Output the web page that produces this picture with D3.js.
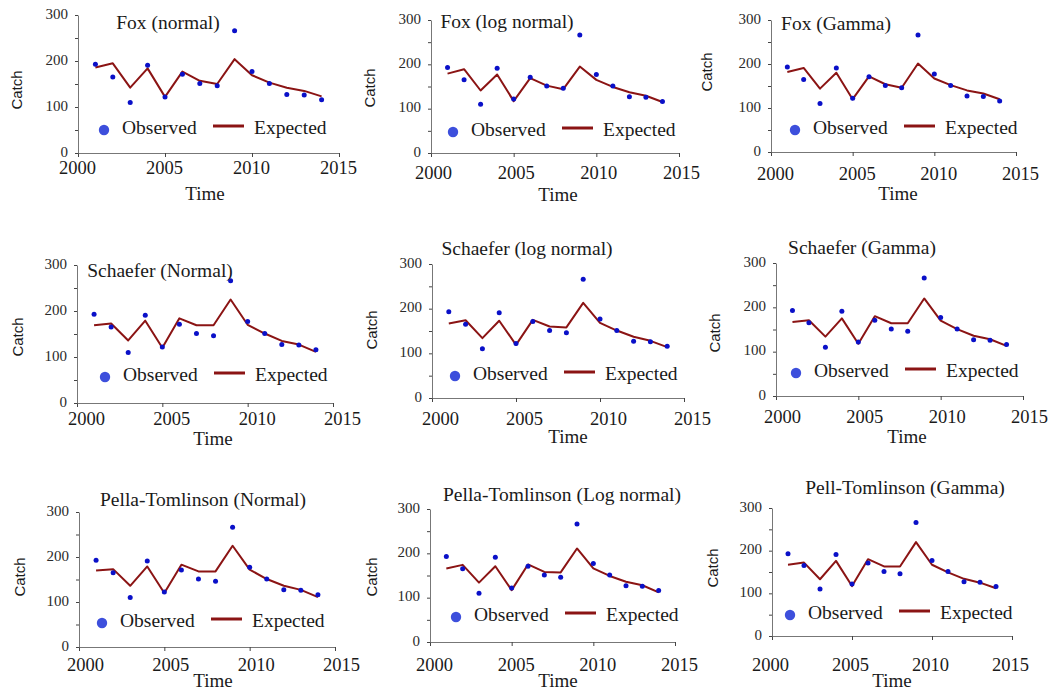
<!DOCTYPE html>
<html><head><meta charset="utf-8">
<script src="https://cdn.jsdelivr.net/npm/d3@7"></script>
<style>body{margin:0;background:#fff} svg{display:block}</style>
</head><body><svg id="c" width="1049" height="693"></svg>
<script>
// ---------- data ----------
const years = [2001,2002,2003,2004,2005,2006,2007,2008,2009,2010,2011,2012,2013,2014];
const observed = [193,165,110,191,122,171,151,146,266,177,151,127,126,116];
const foxNormal = [186,195,142,184,122,177,157,150,204,169,153,142,135,123];
const foxLogNormal = [179,189,141,177,117,169,152,144,195,165,149,137,129,115];
const foxGamma = [182,191,144,180,120,172,154,146,201,167,152,140,133,120];
const schaeferNormal = [169,173,136,179,120,184,169,169,225,170,151,135,127,111];
const schaeferLogNormal = [167,174,134,173,119,175,160,158,213,168,151,137,128,114];
const schaeferGamma = [167,171,134,175,118,180,164,164,220,170,151,136,128,113];
const pellaNormal = [170,173,136,179,120,183,168,168,225,172,151,136,127,111];
const pellaLogNormal = [166,174,134,171,117,175,158,157,211,166,149,136,128,112];
const pellaGamma = [167,172,133,176,117,180,163,163,220,167,149,134,125,112];
const expectedSeries = [foxNormal, foxLogNormal, foxGamma, schaeferNormal, schaeferLogNormal, schaeferGamma, pellaNormal, pellaLogNormal, pellaGamma];
const titles = ["Fox (normal)","Fox (log normal)","Fox (Gamma)","Schaefer (Normal)","Schaefer (log normal)","Schaefer (Gamma)","Pella-Tomlinson (Normal)","Pella-Tomlinson (Log normal)","Pell-Tomlinson (Gamma)"];
const xTicks = [2000,2005,2010,2015];
const yTicks = [0,50,100,150,200,250,300];
const legendLabels = ["Observed","Expected"];
const xTitle = "Time";
const yTitle = "Catch";

// ---------- layout (pixel placement of each panel) ----------
const layout = [
 {x0:78,x1:339,yb:153,yt:15,tx:168,ty:29,cx:17,cy:90,mx:205,my:200,lb:174,ldx:-1,gx:104,gy:130},
 {x0:431,x1:679,yb:153,yt:20,tx:507,ty:28,cx:370,cy:88,mx:558,my:201,lb:179,ldx:2,gx:453,gy:132},
 {x0:771,x1:1016,yb:152,yt:20,tx:836,ty:30,cx:707,cy:72,mx:898,my:200,lb:180,ldx:4,gx:795,gy:130},
 {x0:77,x1:333,yb:403,yt:265,tx:160,ty:277,cx:18,cy:337,mx:213,my:445,lb:425,ldx:9,gx:105,gy:377},
 {x0:432,x1:684,yb:398,yt:264,tx:527,ty:255,cx:372,cy:330,mx:568,my:443,lb:425,ldx:8,gx:455,gy:376},
 {x0:776,x1:1023,yb:396,yt:263,tx:862,ty:254,cx:715,cy:333,mx:907,my:443,lb:423,ldx:6,gx:796,gy:373},
 {x0:79,x1:335,yb:647,yt:512,tx:203,ty:506,cx:20,cy:577,mx:213,my:687,lb:671,ldx:6,gx:102,gy:623},
 {x0:430,x1:675,yb:642,yt:509,tx:562,ty:501,cx:372,cy:577,mx:558,my:687,lb:671,ldx:4,gx:456,gy:617},
 {x0:772,x1:1012,yb:636,yt:508,tx:905,ty:494,cx:713,cy:568,mx:892,my:687,lb:671,ldx:-2,gx:790,gy:615}
];

const SERIF = "'Liberation Serif','Times New Roman',serif";
const SANS = "'Liberation Sans',Arial,sans-serif";
const svg = d3.select("#c");

layout.forEach((L, i) => {
  const g = svg.append("g");
  const x = d3.scaleLinear().domain([2000, 2015]).range([L.x0, L.x1]);
  const y = d3.scaleLinear().domain([0, 300]).range([L.yb, L.yt]);

  // x axis
  const xa = g.append("g").attr("transform", `translate(0,${L.yb})`)
    .call(d3.axisBottom(x).tickValues(xTicks).tickSize(4).tickSizeOuter(0).tickFormat(d3.format("d")));
  xa.select(".domain").attr("stroke", "#777");
  xa.selectAll(".tick line").attr("stroke", "#444");
  xa.selectAll(".tick text").attr("y", L.lb - L.yb).attr("dy", 0).attr("dx", L.ldx)
    .attr("font-family", SERIF).attr("font-size", 18.5).attr("fill", "#1a1a1a");

  // y axis
  const ya = g.append("g").attr("transform", `translate(${L.x0},0)`)
    .call(d3.axisLeft(y).tickValues(yTicks).tickSize(3).tickSizeOuter(0).tickPadding(7)
      .tickFormat(d => d % 100 === 0 ? d : ""));
  ya.select(".domain").attr("stroke", "#777");
  ya.selectAll(".tick line").attr("stroke", "#444");
  ya.selectAll(".tick text").attr("dy", "0.22em").attr("font-family", SERIF).attr("font-size", 15).attr("fill", "#2a2a2a");

  // expected line
  const line = d3.line().x((d, k) => x(years[k])).y(d => y(d));
  g.append("path").datum(expectedSeries[i]).attr("d", line)
    .attr("fill", "none").attr("stroke", "#8b1414").attr("stroke-width", 2).attr("stroke-linejoin", "round");

  // observed points
  g.selectAll("circle.obs").data(observed).join("circle").attr("class", "obs")
    .attr("cx", (d, k) => x(years[k])).attr("cy", d => y(d)).attr("r", 2.5).attr("fill", "#0a10c8");

  // title
  g.append("text").attr("x", L.tx).attr("y", L.ty).attr("text-anchor", "middle")
    .attr("font-family", SERIF).attr("font-size", 19.5).attr("fill", "#1a1a1a").text(titles[i]);

  // axis titles
  g.append("text").attr("x", L.mx).attr("y", L.my).attr("text-anchor", "middle")
    .attr("font-family", SERIF).attr("font-size", 19).attr("fill", "#1a1a1a").text(xTitle);
  g.append("text").attr("transform", `translate(${L.cx + 5},${L.cy}) rotate(-90)`).attr("text-anchor", "middle")
    .attr("font-family", SANS).attr("font-size", 15).attr("fill", "#1a1a1a").text(yTitle);

  // legend
  g.append("circle").attr("cx", L.gx).attr("cy", L.gy).attr("r", 5.2).attr("fill", "#3d4fdc");
  g.append("text").attr("x", L.gx + 18).attr("y", L.gy + 4).attr("font-family", SERIF).attr("font-size", 19.5)
    .attr("fill", "#1a1a1a").text(legendLabels[0]);
  g.append("line").attr("x1", L.gx + 109).attr("x2", L.gx + 140).attr("y1", L.gy - 4).attr("y2", L.gy - 4)
    .attr("stroke", "#8b1414").attr("stroke-width", 3);
  g.append("text").attr("x", L.gx + 150).attr("y", L.gy + 4).attr("font-family", SERIF).attr("font-size", 19.5)
    .attr("fill", "#1a1a1a").text(legendLabels[1]);
});
</script>
</body></html>
